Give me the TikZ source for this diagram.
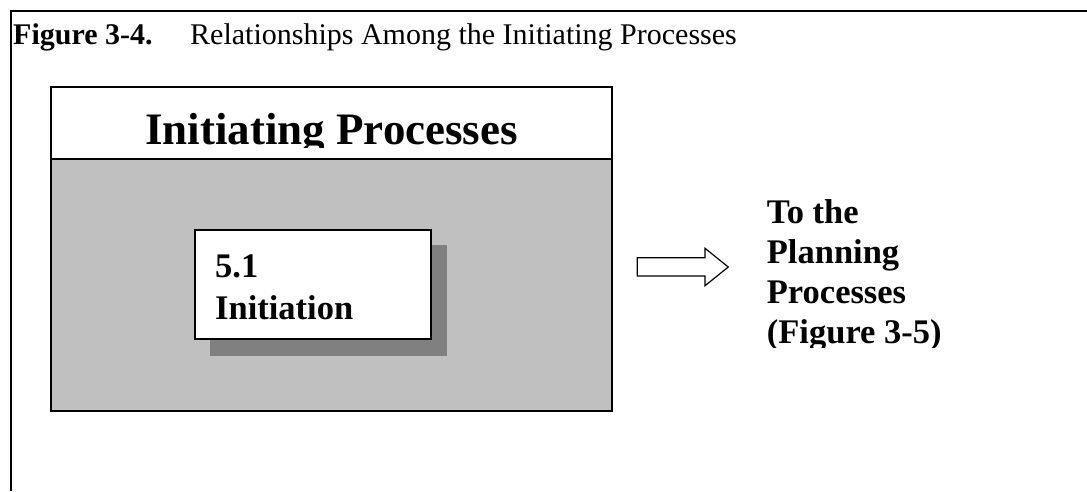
\documentclass[tikz,border=0pt]{standalone}
\usepackage{fontspec}
\setmainfont{Liberation Serif}
\definecolor{panelgray}{HTML}{C0C0C0}
\definecolor{shadowgray}{HTML}{808080}
\tikzset{
  frameline/.style={line width=2pt, draw=black},
  boxline/.style={line width=1.8pt, draw=black},
  captionbold/.style={anchor=base west, inner sep=0pt, font=\fontsize{30}{36}\selectfont\bfseries},
  captiontext/.style={anchor=base west, inner sep=0pt, font=\fontsize{30}{36}\selectfont},
  titletext/.style={anchor=base, inner sep=0pt, font=\fontsize{45}{50}\selectfont\bfseries},
  bodytext/.style={anchor=base west, inner sep=0pt, font=\fontsize{34.5}{40}\selectfont\bfseries},
  blockarrow/.style={line width=1.2pt, draw=black, fill=white, line join=miter}
}
\begin{document}
\begin{tikzpicture}[x=1pt, y=-1pt]
\useasboundingbox (0,0) rectangle (1087,491);

% page frame: top rule and left rule
\draw[frameline] (1087,11) -- (11,11) -- (11,491);

% caption
\node[captionbold] (fignum) at (13,44.5) {Figure 3-4.};
\node[captiontext] (figtitle) at (190,44.5) {Relationships Among the Initiating Processes};

% process group panel: header strip and gray body
\draw[boxline, fill=white] (51,87) rectangle (612,159);
\draw[boxline, fill=panelgray] (51,159) rectangle (612,411);
\begin{scope}
  \clip (51,87) rectangle (612,147.5);
  \node[titletext] (grouptitle) at (331.5,144.3) {Initiating Processes};
\end{scope}

% process box with drop shadow
\fill[shadowgray] (210,245) rectangle (447,356);
\draw[boxline, fill=white] (195,230) rectangle (431,339);
\node[bodytext] (procnum) at (215,277) {5.1};
\node[bodytext] (procname) at (215,319) {Initiation};

% outgoing block arrow
\draw[blockarrow] (637.3,257.7) -- (705,257.7) -- (705,248.3) -- (728.3,267)
  -- (705,285.7) -- (705,276) -- (637.3,276) -- cycle;

% destination note
\begin{scope}
  \clip (740,170) rectangle (1087,347);
  \node[bodytext] (dest1) at (766.7,223.3) {To the};
  \node[bodytext] (dest2) at (766.7,263.3) {Planning};
  \node[bodytext] (dest3) at (766.7,303.3) {Processes};
  \node[bodytext] (dest4) at (766.7,343.3) {(Figure 3-5)};
\end{scope}
\end{tikzpicture}
\end{document}
